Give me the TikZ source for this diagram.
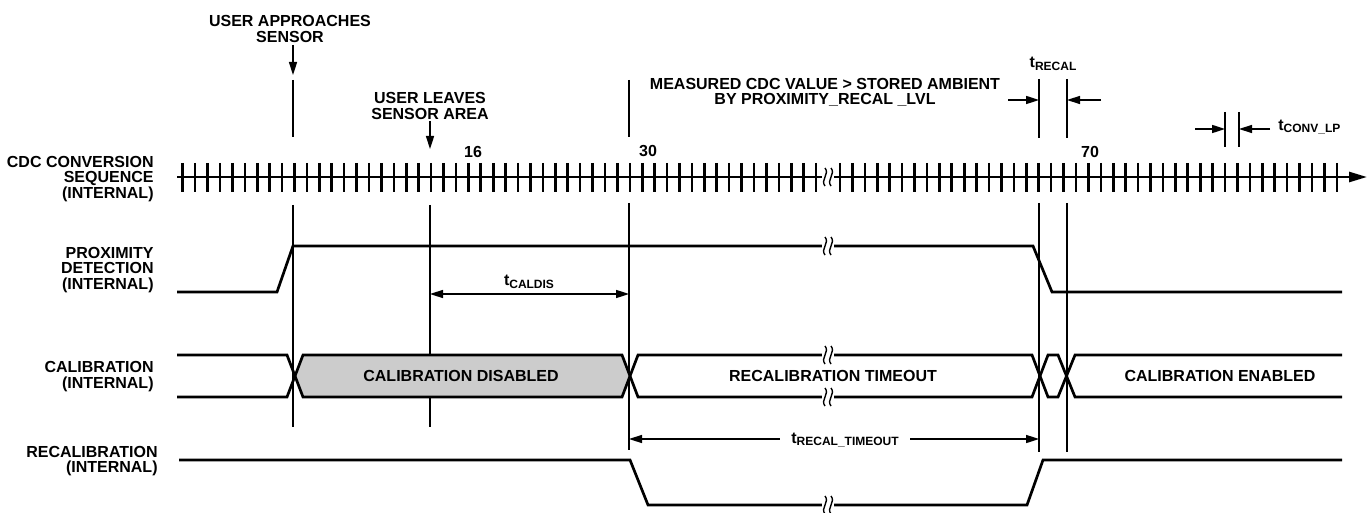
\documentclass[tikz,border=0pt]{standalone}
\usepackage{fontspec}
\setmainfont{Liberation Sans}
\usetikzlibrary{arrows.meta}
\newcommand{\tsub}[1]{t\raisebox{-1.4pt}{\fontsize{6}{6}\selectfont #1}}

\begin{document}
\begin{tikzpicture}[x=0.5pt, y=-0.5pt,
  >={Triangle[length=6.5pt, width=4pt]},
  every node/.style={font=\fontsize{8}{8}\selectfont\bfseries, inner sep=0pt, align=center},
  lbl/.style={anchor=east, align=right, font=\fontsize{8}{7.8}\selectfont\bfseries},
  sig/.style={line width=1.35pt, line join=miter},
  tk/.style={line width=1.3pt},
  vline/.style={line width=0.55pt},
  arr/.style={->, line width=0.8pt},
  brk/.pic={
    \fill[white] (-6,-10) rectangle (6,10);
    \foreach \d in {-3,3}
      \draw[line width=0.7pt] (\d,-9) .. controls (\d+5,-3) and (\d-5,3) .. (\d,9);
  }
]
\useasboundingbox (0,0) rectangle (1369,513);

% Row labels
\node[lbl] (cdc)   at (154,179) {CDC CONVERSION\\SEQUENCE\\(INTERNAL)};
\node[lbl] (prox)  at (154,270) {PROXIMITY\\DETECTION\\(INTERNAL)};
\node[lbl] (cal)   at (154,376.5) {CALIBRATION\\(INTERNAL)};
\node[lbl] (recal) at (158,461) {RECALIBRATION\\(INTERNAL)};

% Event labels
\node (appr)  at (290,28.5) {USER APPROACHES\\SENSOR};
\node (leave) at (430,106) {USER LEAVES\\SENSOR AREA};
\node[font=\fontsize{8}{7.5}\selectfont\bfseries] (meas) at (825,92.5)
  {MEASURED CDC VALUE > STORED AMBIENT\\BY PROXIMITY\_RECAL \_LVL};
\node (n16) at (473,151.5) {16};
\node (n30) at (648,151.5) {30};
\node (n70) at (1090,151.5) {70};

% Conversion sequence
\draw[tk, -{Triangle[length=9pt, width=5pt]}] (177,177) -- (1367,177);
\foreach \i in {0,...,51} \draw[tk] ({182.7+12.42*\i},163) -- ++(0,29);
\foreach \i in {0,...,40} \draw[tk] ({840+12.42*\i},163) -- ++(0,29);
\pic at (828,177) {brk};

% Event markers
\draw[vline] (293,80) -- (293,137) (293,205) -- (293,427);
\draw[vline] (430,205) -- (430,427);
\draw[vline] (629,80) -- (629,137) (629,203) -- (629,450);
\draw[vline] (1039,79) -- (1039,138) (1039,203) -- (1039,452);
\draw[vline] (1067,79) -- (1067,138) (1067,203) -- (1067,452);
\draw[vline] (1225,112) -- (1225,147) (1239,112) -- (1239,147);

\coordinate (apprtop) at (293,45);
\coordinate (apprtip) at (293,75);
\coordinate (leavetop) at (430,121);
\coordinate (leavetip) at (430,149);
\draw[arr] (apprtop) -- (apprtip);
\draw[arr] (leavetop) -- (leavetip);

% Proximity detection
\draw[sig] (177,292) -- (277,292) -- (293,246) -- (1033,246) -- (1052,292) -- (1342,292);
\pic at (828,246) {brk};

% Calibration
\fill[gray!40] (295,376) -- (303,355) -- (622,355) -- (630,376) -- (622,397) -- (303,397) -- cycle;
\draw[sig] (177,355) -- (287,355) -- (303,397) -- (622,397) -- (638,355) -- (1032,355)
  -- (1048,397) -- (1058,397) -- (1075,355) -- (1342,355);
\draw[sig] (177,397) -- (287,397) -- (303,355) -- (622,355) -- (638,397) -- (1032,397)
  -- (1048,355) -- (1058,355) -- (1075,397) -- (1342,397);
\pic at (828,355) {brk};
\pic at (828,397) {brk};
\node (dis) at (461,376) {CALIBRATION DISABLED};
\node (tmo) at (833,376) {RECALIBRATION TIMEOUT};
\node (ena) at (1220,376) {CALIBRATION ENABLED};

% Recalibration
\draw[sig] (179,460) -- (630,460) -- (648,505) -- (1027,505) -- (1043,460) -- (1342,460);
\pic at (828,505) {brk};

% Timing arrows
\coordinate (cdL) at (430,294);
\coordinate (cdR) at (629,294);
\draw[arr, <->] (cdL) -- (cdR);
\node (tcaldis) at (529,282) {\tsub{CALDIS}};

\node (trto) at (845,440) {\tsub{RECAL\_TIMEOUT}};
\coordinate (rtoL) at (629,439);
\coordinate (rtoR) at (1039,439);
\draw[arr] (trto.west |- rtoL) ++(-11,0) -- (rtoL);
\draw[arr] (trto.east |- rtoR) ++(11,0) -- (rtoR);

\node (trecal) at (1053,64) {\tsub{RECAL}};
\coordinate (reL) at (1039,100);
\coordinate (reR) at (1067,100);
\draw[arr] (1008,100) -- (reL);
\draw[arr] (1101,100) -- (reR);

\node[anchor=west] (tconv) at (1278,127) {\tsub{CONV\_LP}};
\coordinate (cvL) at (1225,129);
\coordinate (cvR) at (1239,129);
\draw[arr] (1195,129) -- (cvL);
\draw[arr] (tconv.west |- cvR) ++(-8,0) -- (cvR);
\end{tikzpicture}
\end{document}
